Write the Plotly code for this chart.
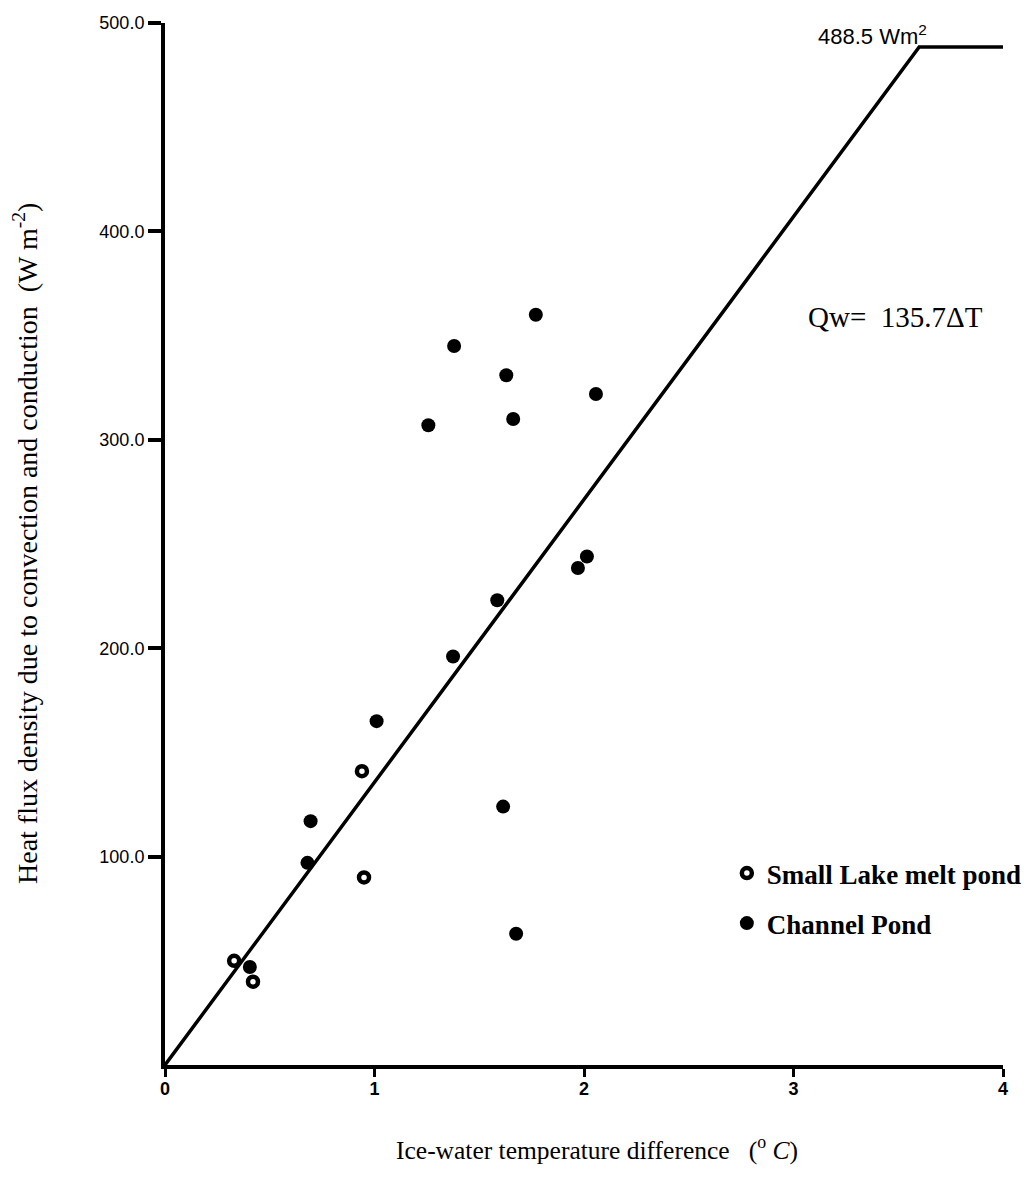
import plotly.graph_objects as go

# Small Lake melt pond (open markers)
lake_dt = [0.33, 0.42, 0.94, 0.95]
lake_q = [50, 40, 141, 90]

# Channel Pond (filled markers)
chan_dt = [0.405, 0.68, 0.695, 1.01, 1.375, 1.586, 1.614, 1.676, 1.971, 2.014,
           1.257, 1.662, 2.057, 1.629, 1.38, 1.77]
chan_q = [47, 97, 117, 165, 196, 223, 124, 63, 238.5, 244,
          307, 310, 322, 331, 345, 360]

# Fit line Qw = 135.7 dT, capped at 488.5 W m-2
fit_x = [0, 3.6, 4.06]
fit_y = [0, 488.5, 488.5]

x_ticks = [0, 1, 2, 3, 4]
x_tick_text = ["0", "1", "2", "3", "4"]
y_ticks = [100, 200, 300, 400, 500]
y_tick_text = ["100.0", "200.0", "300.0", "400.0", "500.0"]

fig = go.Figure()

fig.add_trace(go.Scatter(
    x=fit_x, y=fit_y, mode="lines",
    line=dict(color="black", width=3.5),
    showlegend=False, cliponaxis=False, hoverinfo="skip"))

fig.add_trace(go.Scatter(
    x=lake_dt, y=lake_q, mode="markers", name="Small Lake melt pond",
    legendgroup="a",
    marker=dict(symbol="circle", size=10, color="white",
                line=dict(color="black", width=4.5)),
    cliponaxis=False))

fig.add_trace(go.Scatter(
    x=chan_dt, y=chan_q, mode="markers", name="Channel Pond",
    legendgroup="b",
    marker=dict(symbol="circle", size=14, color="black",
                line=dict(color="black", width=0)),
    cliponaxis=False))

serif = "Liberation Serif"

fig.add_annotation(x=3.645, y=488.5, xref="x", yref="y",
                   text="488.5 Wm<sup>2</sup>", showarrow=False,
                   xanchor="right", yanchor="bottom", yshift=-4,
                   font=dict(family="Liberation Sans", size=22, color="black"))

fig.add_annotation(x=3.06, y=359, xref="x", yref="y",
                   text="Qw=  135.7ΔT", showarrow=False,
                   xanchor="left", yanchor="middle",
                   font=dict(family=serif, size=29, color="black"))

fig.add_annotation(x=0, y=0.5, xref="paper", yref="paper", xshift=-140,
                   text="Heat flux density due to convection and conduction  (W m<sup>-2</sup>)",
                   textangle=-90, showarrow=False,
                   xanchor="center", yanchor="middle",
                   font=dict(family=serif, size=28, color="black"))

fig.add_annotation(x=0.515, y=0, xref="paper", yref="paper", yshift=-83,
                   text="Ice-water temperature difference   (<sup>o</sup> <i>C</i>)",
                   showarrow=False, xanchor="center", yanchor="middle",
                   font=dict(family=serif, size=25.5, color="black"))

fig.update_layout(
    width=1031, height=1202,
    margin=dict(l=165, r=28, t=23, b=137, autoexpand=False),
    paper_bgcolor="white", plot_bgcolor="white",
    showlegend=True,
    legend=dict(xref="container", yref="container",
                x=0.705, y=0.2937, xanchor="left", yanchor="top",
                font=dict(family=serif, size=27, color="black", weight="bold"),
                bgcolor="rgba(0,0,0,0)", tracegroupgap=12,
                itemsizing="trace"),
    xaxis=dict(range=[0, 4], showgrid=False, zeroline=False,
               showline=True, linecolor="black", linewidth=4,
               ticks="outside", ticklen=8, tickwidth=3, tickcolor="black",
               ticklabelstandoff=-4,
               tickvals=x_ticks, ticktext=x_tick_text,
               tickfont=dict(family="Liberation Sans", size=18, color="black",
                             weight="bold")),
    yaxis=dict(range=[0, 500], showgrid=False, zeroline=False,
               showline=True, linecolor="black", linewidth=4,
               ticks="outside", ticklen=13, tickwidth=4, tickcolor="black",
               tickvals=y_ticks, ticktext=y_tick_text,
               tickfont=dict(family="Liberation Sans", size=18, color="black")),
)

fig.write_html("out.html")
